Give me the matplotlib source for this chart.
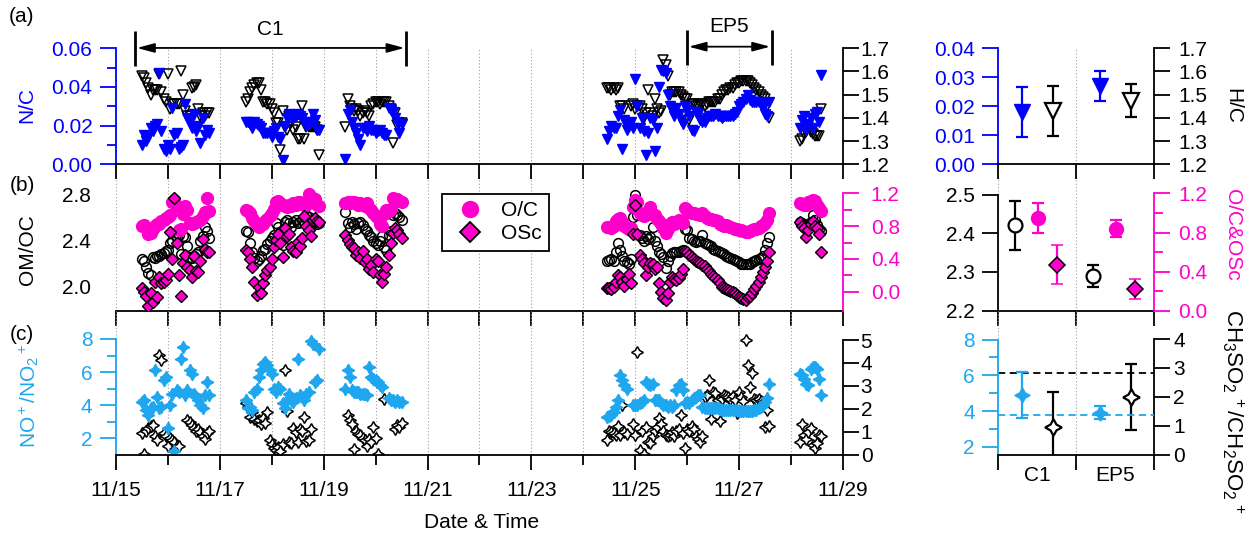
import numpy as np
import pandas as pd
import matplotlib
matplotlib.use("Agg")
import matplotlib.pyplot as plt
import matplotlib.dates as mdates
from matplotlib.lines import Line2D
from matplotlib.ticker import FixedLocator, FormatStrFormatter, NullFormatter, NullLocator
from matplotlib.transforms import blended_transform_factory

plt.rcParams['font.family'] = ['Liberation Sans', 'DejaVu Sans']
plt.rcParams['font.size'] = 15
plt.rcParams['mathtext.fontset'] = 'custom'
plt.rcParams['mathtext.rm'] = 'Liberation Sans'
plt.rcParams['mathtext.it'] = 'Liberation Sans:italic'
plt.rcParams['axes.linewidth'] = 1.3

# ---------------- hourly time series, one list per measurement segment ----------------
SEG_START = ['2018-11-15 12:00', '2018-11-17 12:00', '2018-11-19 10:00',
             '2018-11-24 11:00', '2018-11-28 04:00']

N_C = [
    [0.010, 0.015, 0.012, 0.014, 0.019, 0.017, 0.020, 0.021, 0.047, 0.017,
     0.008, 0.007, 0.010, 0.008, 0.029, 0.015, 0.016, 0.008, 0.009, 0.010,
     0.031, 0.024, 0.022, 0.019, 0.026, 0.017, 0.020, 0.011, 0.024, 0.015,
     0.018, 0.016],
    [0.022, 0.022, 0.021, 0.019, 0.022, 0.021, 0.020, 0.019, 0.016, 0.016,
     0.016, 0.016, 0.014, 0.017, 0.019, 0.014, 0.013, 0.002, 0.020, 0.024,
     0.026, 0.025, 0.024, 0.025, 0.026, 0.025, 0.024, 0.022, 0.020, 0.021,
     0.022, 0.026, 0.023, 0.018, 0.018],
    [0.003, 0.026, 0.028, 0.022, 0.019, 0.016, 0.013, 0.010, 0.019, 0.019,
     0.017, 0.020, 0.018, 0.018, 0.016, 0.017, 0.018, 0.016, 0.015, 0.015,
     0.029, 0.028, 0.027, 0.024, 0.022, 0.016, 0.021],
    [0.013, 0.017, 0.020, 0.019, 0.019, 0.025, 0.028, 0.008, 0.023, 0.018,
     0.020, 0.022, 0.019, 0.044, 0.030, 0.019, 0.024, 0.017, 0.005, 0.016,
     0.024, 0.023, 0.007, 0.019, 0.040, 0.049, 0.048, 0.047, 0.036, 0.030,
     0.028, 0.025, 0.029, 0.026, 0.023, 0.021, 0.030, 0.028, 0.025, 0.018,
     0.017, 0.027, 0.026, 0.023, 0.022, 0.022, 0.024, 0.025, 0.025, 0.025,
     0.026, 0.025, 0.025, 0.024, 0.025, 0.025, 0.025, 0.025, 0.025, 0.026,
     0.027, 0.030, 0.031, 0.032, 0.034, 0.036, 0.033, 0.032, 0.032, 0.032,
     0.032, 0.031, 0.029, 0.026, 0.025, 0.032],
    [0.019, 0.023, 0.025, 0.018, 0.021, 0.024, 0.019, 0.026, 0.027, 0.022, 0.046],
]

H_C = [
    [1.58, 1.57, 1.55, 1.53, 1.50, 1.52, 1.52, 1.52, 1.59, 1.51,
     1.48, 1.47, 1.59, 1.44, 1.46, 1.46, 1.46, 1.46, 1.60, 1.50,
     1.43, 1.41, 1.41, 1.53, 1.535, 1.54, 1.44, 1.41, 1.42, 1.41,
     1.42, 1.42],
    [1.47, 1.48, 1.51, 1.53, 1.54, 1.55, 1.55, 1.52, 1.47, 1.47,
     1.46, 1.46, 1.44, 1.42, 1.38, 1.38, 1.26, 1.43, 1.36, 1.35,
     1.41, 1.38, 1.35, 1.36, 1.31, 1.31, 1.45, 1.31, 1.36, 1.36,
     1.36, 1.36, 1.36, 1.35, 1.24],
    [1.36, 1.48, 1.45, 1.44, 1.43, 1.44, 1.43, 1.41, 1.42, 1.43,
     1.42, 1.41, 1.45, 1.46, 1.47, 1.47, 1.46, 1.47, 1.47, 1.47,
     1.45, 1.44, 1.29, 1.42, 1.37, 1.38, 1.38],
    [1.53, 1.53, 1.52, 1.53, 1.52, 1.53, 1.45, 1.45, 1.44, 1.37,
     1.37, 1.45, 1.46, 1.44, 1.45, 1.45, 1.44, 1.40, 1.42, 1.52,
     1.42, 1.41, 1.48, 1.44, 1.42, 1.43, 1.65, 1.63, 1.58, 1.50,
     1.51, 1.51, 1.51, 1.51, 1.50, 1.49, 1.48, 1.48, 1.39, 1.46,
     1.46, 1.45, 1.45, 1.46, 1.46, 1.45, 1.46, 1.47, 1.47, 1.47,
     1.47, 1.48, 1.48, 1.50, 1.51, 1.52, 1.52, 1.53, 1.53, 1.54,
     1.55, 1.55, 1.56, 1.56, 1.56, 1.56, 1.55, 1.54, 1.53, 1.52,
     1.51, 1.50, 1.49, 1.48, 1.45, 1.40],
    [1.30, 1.31, 1.33, 1.34, 1.36, 1.34, 1.33, 1.32, 1.32, 1.32, 1.44],
]

OM_OC = [
    [2.24, 2.22, 2.17, 2.12, 2.10, 2.26, 2.25, 2.27, 2.27, 2.28,
     2.29, 2.31, 2.32, 2.38, 2.40, 2.74, 2.42, 2.45, 2.28, 2.44,
     2.43, 2.35, 2.26, 2.25, 2.27, 2.28, 2.30, 2.40, 2.44, 2.52,
     2.48, 2.42],
    [2.48, 2.47, 2.38, 2.30, 2.25, 2.22, 2.24, 2.27, 2.32, 2.33,
     2.37, 2.40, 2.42, 2.45, 2.55, 2.52, 2.47, 2.36, 2.56, 2.58,
     2.55, 2.52, 2.56, 2.58, 2.55, 2.56, 2.58, 2.56, 2.62, 2.60,
     2.57, 2.55, 2.56, 2.54, 2.55],
    [2.65, 2.55, 2.52, 2.56, 2.54, 2.50, 2.55, 2.56, 2.53, 2.50,
     2.48, 2.45, 2.43, 2.40, 2.38, 2.36, 2.40, 2.44, 2.34, 2.32,
     2.45, 2.48, 2.62, 2.64, 2.62, 2.60, 2.58],
    [2.22, 2.23, 2.24, 2.22, 2.30, 2.38, 2.32, 2.27, 2.22, 2.21,
     2.20, 2.24, 2.60, 2.79, 2.62, 2.45, 2.42, 2.40, 2.44, 2.41,
     2.43, 2.52, 2.40, 2.35, 2.30, 2.28, 2.26, 2.16, 2.22, 2.27,
     2.29, 2.30, 2.30, 2.30, 2.31, 2.32, 2.50, 2.49, 2.42, 2.41,
     2.40, 2.39, 2.40, 2.40, 2.45, 2.38, 2.37, 2.36, 2.35, 2.33,
     2.32, 2.31, 2.30, 2.29, 2.28, 2.27, 2.26, 2.25, 2.24, 2.23,
     2.22, 2.21, 2.20, 2.20, 2.20, 2.20, 2.20, 2.21, 2.22, 2.23,
     2.24, 2.25, 2.27, 2.32, 2.38, 2.43],
    [2.56, 2.55, 2.53, 2.52, 2.54, 2.56, 2.62, 2.58, 2.53, 2.50, 2.48],
]

O_C = [
    [0.80, 0.81, 0.78, 0.70, 0.72, 0.76, 0.80, 0.82, 0.82, 0.86,
     0.87, 0.90, 0.91, 0.93, 1.10, 1.12, 1.05, 0.75, 0.76, 0.95,
     1.05, 1.00, 0.84, 0.83, 0.84, 0.85, 0.86, 0.88, 0.92, 0.97,
     1.14, 0.99],
    [1.00, 0.98, 0.96, 0.90, 0.86, 0.82, 0.79, 0.81, 0.83, 0.86,
     0.89, 0.92, 0.96, 1.01, 1.10, 1.11, 1.08, 1.06, 1.05, 1.03,
     1.06, 1.05, 1.08, 1.06, 1.09, 1.10, 1.07, 1.06, 1.06, 1.19,
     1.15, 1.10, 1.13, 1.06, 1.04],
    [1.08, 1.09, 1.08, 1.09, 1.10, 1.08, 1.06, 1.08, 1.06, 1.05,
     1.08, 1.02, 1.00, 0.96, 0.92, 0.90, 0.82, 0.80, 0.95, 1.00,
     0.98, 1.01, 1.14, 1.12, 1.13, 1.11, 1.10],
    [0.79, 0.79, 0.78, 0.80, 0.86, 0.89, 0.90, 0.85, 0.80, 0.78,
     0.77, 0.78, 1.03, 1.12, 1.10, 0.96, 0.93, 0.92, 0.94, 0.99,
     1.03, 0.95, 0.93, 0.89, 0.86, 0.82, 0.78, 0.72, 0.77, 0.83,
     0.85, 0.83, 0.84, 0.87, 0.86, 0.84, 1.02, 1.00, 0.97, 0.96,
     0.96, 0.95, 0.95, 0.93, 0.96, 0.92, 0.90, 0.89, 0.89, 0.88,
     0.87, 0.86, 0.83, 0.81, 0.80, 0.81, 0.80, 0.79, 0.78, 0.77,
     0.76, 0.75, 0.75, 0.74, 0.73, 0.73, 0.74, 0.75, 0.76, 0.77,
     0.78, 0.80, 0.81, 0.84, 0.88, 0.96],
    [1.08, 1.07, 1.06, 1.06, 1.09, 1.11, 1.12, 1.11, 1.06, 1.02, 0.98],
]

OSC = [
    [0.05, 0.00, -0.05, -0.17, -0.02, -0.12, 0.12, -0.07, 0.18, 0.10,
     0.12, 0.14, 0.22, 0.73, 0.40, 1.14, 0.60, 0.20, -0.05, 0.35,
     0.45, 0.30, 0.26, 0.18, 0.43, 0.25, 0.24, 0.38, 0.64, 0.52,
     0.49, 0.48],
    [0.51, 0.48, 0.40, 0.30, 0.12, -0.04, 0.06, -0.02, 0.10, 0.20,
     0.26, 0.30, 0.40, 0.55, 0.63, 0.70, 0.60, 0.42, 0.78, 0.68,
     0.70, 0.55, 0.50, 0.48, 0.61, 0.56, 0.65, 0.92, 0.80, 0.75,
     0.68, 0.88, 0.90, 0.86, 0.85],
    [0.69, 0.63, 0.58, 0.55, 0.53, 0.45, 0.48, 0.41, 0.50, 0.36,
     0.40, 0.28, 0.32, 0.24, 0.40, 0.38, 0.20, 0.12, 0.22, 0.30,
     0.45, 0.60, 0.72, 0.78, 0.75, 0.70, 0.65],
    [0.04, 0.05, 0.03, 0.06, 0.12, 0.20, 0.18, 0.12, 0.07, 0.15,
     0.22, 0.10, 0.70, 1.06, 0.70, 0.45, 0.40, 0.35, 0.20, 0.30,
     0.35, 0.34, 0.28, 0.30, 0.10, 0.00, -0.08, -0.10, -0.02, 0.12,
     0.18, 0.15, 0.14, 0.17, 0.22, 0.28, 0.50, 0.48, 0.45, 0.42,
     0.40, 0.38, 0.36, 0.35, 0.33, 0.31, 0.28, 0.25, 0.22, 0.19,
     0.17, 0.14, 0.10, 0.06, 0.04, 0.03, 0.02, 0.01, 0.00, -0.02,
     -0.04, -0.06, -0.08, -0.09, -0.10, -0.07, -0.05, -0.02, 0.03, 0.07,
     0.12, 0.18, 0.24, 0.30, 0.38, 0.48],
    [0.85, 0.80, 0.78, 0.67, 0.75, 0.82, 0.86, 0.80, 0.78, 0.70, 0.49],
]

nan = np.nan
NO_RATIO = [
    [4.2, 4.3, 3.7, 3.4, 3.8, 3.9, 6.1, 4.5, 3.8, 3.9,
     5.5, 5.7, 2.6, 4.0, 4.7, 1.2, 4.9, 4.8, 6.8, 7.5,
     4.6, 4.9, 6.1, 5.9, 4.7, 4.5, 4.3, 4.0, 3.8, 4.6,
     5.4, 4.6],
    [4.3, 3.8, 3.9, 3.7, 4.8, 5.0, 5.7, 6.1, 6.5, 6.6,
     6.4, 6.1, 5.9, 5.0, 4.8, 5.1, 5.0, 4.1, 3.8, 4.3,
     4.7, 4.3, 4.2, 4.4, 6.8, 4.6, 4.5, 4.3, 4.7, 4.8,
     7.9, 7.7, 5.4, 5.5, 7.4],
    [5.0, 6.1, 5.7, 4.9, 4.8, 4.8, 4.8, 4.7, 4.7, 4.7,
     4.6, 6.3, 5.7, 5.6, 5.5, 5.4, 5.2, 5.1, nan, nan,
     4.4, 4.3, 4.3, 4.2, 4.3, 4.2, 4.2],
    [3.3, 3.35, 3.4, 3.6, 3.9, 4.3, 5.8, 5.5, 5.2, 5.0,
     nan, nan, 4.0, 4.0, 4.0, 4.1, 4.2, 4.3, 5.4, 5.3,
     5.2, 5.3, 4.3, 4.3, 4.3, 4.1, 4.0, 4.0, 3.9, 4.0,
     3.9, 4.0, 4.9, 5.2, 5.3, 4.9, 4.1, 4.2, 4.1, 4.3,
     4.4, 4.5, 4.6, 4.6, 3.9, 3.8, 3.85, 3.85, 3.85, 3.85,
     3.85, 3.8, 3.75, 3.7, 3.7, 3.7, 3.7, 3.7, 3.7, 3.7,
     3.7, 3.65, 3.65, 3.65, 3.65, 3.65, 3.65, 3.65, 3.7, 3.7,
     3.8, 3.9, 4.0, 4.2, 4.4, 5.3],
    [5.9, 5.85, 5.6, 5.3, 5.2, 6.2, 6.3, 6.3, 6.2, 5.6, 4.6],
]

CH_RATIO = [
    [0.95, 0.02, 1.05, 1.15, 1.25, 1.30, 0.80, 0.62, 4.35, 4.15,
     0.95, 0.80, 0.40, 0.75, 0.65, 0.55, 0.38, 0.40, nan, nan,
     nan, 1.50, 1.42, 1.30, 1.15, 1.05, 1.10, 1.00, 0.80, 0.70,
     0.95, 1.05],
    [2.25, 2.10, 1.65, 1.85, 1.55, 1.45, 1.50, 1.35, 1.60, 1.40,
     1.85, 0.65, 0.45, 0.30, 0.20, 0.35, 0.15, 0.45, 3.70, 1.90,
     0.55, 0.50, 1.15, 1.00, 0.55, 1.10, 1.05, 1.65, 0.60, 0.65,
     1.10, nan, nan, nan, nan],
    [nan, 1.75, 1.50, 1.35, 0.25, 1.05, 0.90, 0.85, 0.75, 0.65,
     0.40, 0.70, 0.55, 1.20, 0.75, 0.05, nan, nan, 2.45, nan,
     nan, nan, nan, 1.10, 1.30, 1.20, 1.40],
    [0.65, 1.05, 1.00, 0.95, 0.85, 1.25, 0.85, 2.15, 1.00, 0.90,
     nan, nan, 1.35, 0.85, 4.50, 0.20, 1.05, 0.05, 1.20, 0.55,
     0.50, 0.80, 1.05, 1.20, 1.60, 1.35, 1.05, 0.85, 0.80, 0.85,
     1.00, 0.80, 1.05, 1.10, 1.75, 0.95, 0.30, 1.10, 1.05, 1.25,
     1.10, 0.80, 0.70, 0.55, 0.80, 2.50, 2.60, 3.25, 1.55, 2.75,
     2.70, 2.40, 1.45, 2.45, 2.60, 2.55, 2.50, 2.45, 2.55, 2.40,
     1.80, 2.75, 2.50, 2.35, 5.00, 3.90, 2.95, 3.55, 2.45, 2.40,
     2.45, 2.35, 2.30, 1.20, 1.95, 1.25],
    [0.55, 1.35, 0.85, 0.70, 1.00, 1.15, 0.42, 0.28, 0.50, 0.85, 0.80],
]

# ---------------- periods and their mean +/- 1 sd ----------------
PERIOD_NAMES = ['C1', 'EP5']
PERIOD_START = ['2018-11-15 09:00', '2018-11-26 00:00']
PERIOD_END = ['2018-11-20 14:00', '2018-11-27 15:00']

NC_MEAN, NC_SD = [0.018, 0.027], [0.0086, 0.0052]
HC_MEAN, HC_SD = [1.428, 1.473], [0.108, 0.071]
OMOC_MEAN, OMOC_SD = [2.42, 2.29], [0.064, 0.028]
OC_MEAN, OC_SD = [0.95, 0.84], [0.154, 0.090]
OSC_MEAN, OSC_SD = [0.47, 0.22], [0.20, 0.10]
NO_MEAN, NO_SD = [4.9, 3.9], [1.31, 0.37]
CH_MEAN, CH_SD = [0.97, 2.0], [1.20, 1.13]
NO_REF = 3.80
CH_REF = 2.82

DATE_LABEL_DAYS = [15, 17, 19, 21, 23, 25, 27, 29]

# ---------------- styling ----------------
BLUE = '#0000ff'
MAGENTA = '#ff00cc'
SKY = '#1ea7ef'
GRID_KW = dict(color='0.62', lw=0.8, ls=(0, (1, 2)), zorder=0)
T0, T1 = pd.Timestamp('2018-11-15'), pd.Timestamp('2018-11-29')

W, H = 1252, 534
fig = plt.figure(figsize=(W / 100, H / 100), dpi=100)


def rect(x0, x1, y0, y1):
    return [x0 / W, 1 - y1 / H, (x1 - x0) / W, (y1 - y0) / H]


XL, XR = (116, 843), (998.3, 1154.3)
YA, YB, YC = (48.3, 164.3), (164.3, 310.7), (310.7, 454.7)


def series(values):
    t = np.concatenate([pd.date_range(s, periods=len(v), freq='h').values
                        for s, v in zip(SEG_START, values)])
    return t, np.concatenate([np.asarray(v, float) for v in values])


def pair(xr, yr):
    ax = fig.add_axes(rect(*xr, *yr))
    ax2 = ax.twinx()
    ax.spines['top'].set_visible(False)
    ax.spines['right'].set_visible(False)
    for s in ('top', 'left', 'bottom'):
        ax2.spines[s].set_visible(False)
    return ax, ax2


def yaxis_style(ax, color, major, minor=None, fmt='%.1f', pad=5, side='left'):
    sp = ax.spines[side]
    sp.set_color(color)
    ax.yaxis.set_major_locator(FixedLocator(major))
    ax.yaxis.set_minor_locator(FixedLocator(minor) if minor else NullLocator())
    ax.yaxis.set_major_formatter(FormatStrFormatter(fmt))
    ax.tick_params(axis='y', which='major', length=11.5, width=1.3, direction='out',
                   colors=color, pad=pad)
    ax.tick_params(axis='y', which='minor', length=6.5, width=1.3, direction='out',
                   colors=color)


def day_grid(ax):
    for d in pd.date_range(T0, T1, freq='D'):
        ax.axvline(d, **GRID_KW)


# ================= left: time series =================
axA, axA2 = pair(XL, YA)
axB, axB2 = pair(XL, YB)
axC, axC2 = pair(XL, YC)

t, v = series(H_C)
axA2.plot(t, v, ls='none', marker='v', ms=7.5, mfc='none', mec='k', mew=1.1)
t, v = series(N_C)
axA.plot(t, v, ls='none', marker='v', ms=7.5, color=BLUE, mec=BLUE)
axA.set_zorder(axA2.get_zorder() + 1)
axA.patch.set_visible(False)

t, v = series(OM_OC)
axB.plot(t, v, ls='none', marker='o', ms=7, mfc='none', mec='k', mew=1.1)
t, v = series(O_C)
axB2.plot(t, v, ls='none', marker='o', ms=8.5, color=MAGENTA, mec=MAGENTA)
t, v = series(OSC)
axB2.plot(t, v, ls='none', marker='D', ms=6.3, mfc=MAGENTA, mec='k', mew=1.0)

t, v = series(CH_RATIO)
axC2.plot(t, v, ls='none', marker=(4, 1, 0), ms=8.5, mfc='white', mec='k', mew=1.1)
t, v = series(NO_RATIO)
axC.plot(t, v, ls='none', marker=(4, 1, 0), ms=9, color=SKY, mec=SKY)
axC.set_zorder(axC2.get_zorder() + 1)
axC.patch.set_visible(False)

for ax in (axA, axB, axC):
    ax.set_xlim(T0, T1)
day_grid(axA2)
day_grid(axB)
day_grid(axC2)

# x axes
for ax in (axA, axB):
    ax.xaxis.set_major_locator(mdates.DayLocator())
    ax.xaxis.set_major_formatter(NullFormatter())
    ax.tick_params(axis='x', which='major', length=10.5, width=1.3, direction='out')
axC.xaxis.set_major_locator(mdates.DayLocator(bymonthday=DATE_LABEL_DAYS))
axC.xaxis.set_minor_locator(mdates.DayLocator())
axC.xaxis.set_major_formatter(mdates.DateFormatter('%m/%d'))
axC.tick_params(axis='x', which='major', length=11, width=1.3, direction='out', pad=8)
axC.tick_params(axis='x', which='minor', length=7, width=1.3, direction='out')

# y axes
axA.set_ylim(0, 0.06)
yaxis_style(axA, BLUE, [0, 0.02, 0.04, 0.06], [0.01, 0.03, 0.05], '%.2f', pad=5.5)
axA2.set_ylim(1.2, 1.7)
yaxis_style(axA2, 'k', [1.2, 1.3, 1.4, 1.5, 1.6, 1.7], None, '%.1f', pad=1, side='right')

axB.set_ylim(1.792, 3.06)
axB.spines['left'].set_visible(False)
axB.yaxis.set_major_locator(FixedLocator([2.0, 2.4, 2.8]))
axB.yaxis.set_major_formatter(FormatStrFormatter('%.1f'))
axB.tick_params(axis='y', length=0, pad=18)
axB2.set_ylim(-0.232, 1.554)
yaxis_style(axB2, MAGENTA, [0, 0.4, 0.8, 1.2], [0.2, 0.6, 1.0], '%.1f', pad=8.5, side='right')
axB2.spines['right'].set_bounds(-0.232, 1.2)

axC.set_ylim(1.0, 9.71)
yaxis_style(axC, SKY, [2, 4, 6, 8], [3, 5, 7], '%d', pad=5.5)
axC.spines['left'].set_bounds(1.0, 8)
axC2.set_ylim(0, 6.28)
yaxis_style(axC2, 'k', [0, 1, 2, 3, 4, 5], None, '%d', pad=1.2, side='right')
axC2.spines['right'].set_bounds(0, 5)

# period markers above panel (a)
trans = blended_transform_factory(axA.transData, axA.transAxes)
for name, s, e, ya, ytxt in zip(PERIOD_NAMES, PERIOD_START, PERIOD_END,
                                (1.003, 1.014), (1.158, 1.19)):
    xs, xe = mdates.date2num(pd.Timestamp(s)), mdates.date2num(pd.Timestamp(e))
    for xv in (xs, xe):
        axA.plot([xv, xv], [ya - 0.155, ya + 0.142], transform=trans, color='k',
                 lw=2.0, clip_on=False, solid_capstyle='butt')
    axA.annotate('', xy=(xe, ya), xytext=(xs, ya), xycoords=trans, textcoords=trans,
                 annotation_clip=False,
                 arrowprops=dict(arrowstyle='<|-|>,head_length=0.75,head_width=0.2',
                                 color='k', lw=1.3, shrinkA=1, shrinkB=1,
                                 mutation_scale=14))
    axA.text((xs + xe) / 2, ytxt, name, transform=trans, ha='center', va='center')

# legend
handles = [Line2D([], [], ls='none', marker='o', ms=11.5, color=MAGENTA, mec=MAGENTA),
           Line2D([], [], ls='none', marker='D', ms=10, mfc=MAGENTA, mec='k', mew=1.3)]
leg = axB2.legend(handles, ['O/C', 'OSc'], loc='upper left',
                  bbox_to_anchor=(442 / W, 1 - 194 / H), bbox_transform=fig.transFigure,
                  frameon=True, fancybox=False, edgecolor='k', framealpha=1,
                  borderpad=0.35, handletextpad=0.5, labelspacing=0.2,
                  handlelength=2.0, borderaxespad=0)
leg.get_frame().set_linewidth(1.3)

# ================= right: period means =================
rA, rA2 = pair(XR, YA)
rB, rB2 = pair(XR, YB)
rC, rC2 = pair(XR, YC)
X_CAT = np.arange(len(PERIOD_NAMES)) + 0.5
EB = dict(ls='none', elinewidth=1.6, capsize=4.3, capthick=1.6)

rA2.errorbar(X_CAT + 0.20, HC_MEAN, yerr=HC_SD, marker='v', ms=11, mfc='white', mec='k',
             mew=1.6, color='k', **EB)
rA.errorbar(X_CAT - 0.19, NC_MEAN, yerr=NC_SD, marker='v', ms=11, color=BLUE, **EB)
rA.set_zorder(rA2.get_zorder() + 1)
rA.patch.set_visible(False)

rB.errorbar(X_CAT - 0.29, OMOC_MEAN, yerr=OMOC_SD, marker='o', ms=10, mfc='white', mec='k',
            mew=1.6, color='k', **EB)
rB2.errorbar(X_CAT + 0.01, OC_MEAN, yerr=OC_SD, marker='o', ms=10, color=MAGENTA, **EB)
rB2.errorbar(X_CAT + 0.25, OSC_MEAN, yerr=OSC_SD, marker='D', ms=8.5, mfc=MAGENTA, mec='k',
             mew=1.1, ecolor=MAGENTA, **EB)

rC2.axhline(CH_REF, color='k', lw=1.3, ls=(0, (4, 2.5)))
rC.axhline(NO_REF, color=SKY, lw=1.3, ls=(0, (4, 2.5)))
rC2.errorbar(X_CAT + 0.20, CH_MEAN, yerr=CH_SD, marker=(4, 1, 0), ms=12, mfc='white', mec='k',
             mew=1.6, color='k', **EB)
rC.errorbar(X_CAT - 0.19, NO_MEAN, yerr=NO_SD, marker=(4, 1, 0), ms=11, color=SKY, **EB)
rC.set_zorder(rC2.get_zorder() + 1)
rC.patch.set_visible(False)

for ax in (rA2, rB, rC2):
    for xv in (0, 1, 2):
        ax.axvline(xv, **GRID_KW)

for ax in (rA, rB, rC):
    ax.set_xlim(0, 2)
    ax.xaxis.set_major_locator(FixedLocator([0, 1, 2]))
    ax.xaxis.set_major_formatter(NullFormatter())
    ax.tick_params(axis='x', which='major', length=11, width=1.3, direction='out')
rC.xaxis.set_minor_locator(FixedLocator(X_CAT))
rC.set_xticklabels(PERIOD_NAMES, minor=True)
rC.tick_params(axis='x', which='minor', length=0, pad=8)

rA.set_ylim(0, 0.04)
yaxis_style(rA, BLUE, [0, 0.01, 0.02, 0.03, 0.04], None, '%.2f', pad=5.5)
rA2.set_ylim(1.2, 1.7)
yaxis_style(rA2, 'k', [1.2, 1.3, 1.4, 1.5, 1.6, 1.7], None, '%.1f', pad=5.5, side='right')

rB.set_ylim(2.2, 2.578)
yaxis_style(rB, 'k', [2.2, 2.3, 2.4, 2.5], None, '%.1f', pad=5.5)
rB.spines['left'].set_bounds(2.2, 2.5)
rB2.set_ylim(0, 1.498)
yaxis_style(rB2, MAGENTA, [0, 0.4, 0.8, 1.2], [0.2, 0.6, 1.0], '%.1f', pad=5.5, side='right')
rB2.spines['right'].set_bounds(0, 1.2)

rC.set_ylim(1.554, 9.62)
yaxis_style(rC, SKY, [2, 4, 6, 8], [3, 5, 7], '%d', pad=5.5)
rC.spines['left'].set_bounds(1.554, 8)
rC2.set_ylim(0, 4.98)
yaxis_style(rC2, 'k', [0, 1, 2, 3, 4], None, '%d', pad=2, side='right')
rC2.spines['right'].set_bounds(0, 4)

# ================= labels =================
def ftext(px, py, s, **kw):
    fig.text(px / W, 1 - py / H, s, ha='center', va='center', **kw)


ftext(22, 17, '(a)')
ftext(22, 185, '(b)')
ftext(22, 335, '(c)')
ftext(27, 105, 'N/C', color=BLUE, rotation=90)
ftext(27, 250, 'OM/OC', rotation=90)
ftext(29, 396, r'$\mathregular{NO^+/NO_2{}^+}$', color=SKY, rotation=90)
ftext(1233, 106, 'H/C', rotation=270)
ftext(1232, 235, 'O/C&OSc', color=MAGENTA, rotation=270)
ftext(1233, 412, r'$\mathregular{CH_3SO_2{}^{\,+}/CH_2SO_2{}^{\,+}}$', rotation=270, fontsize=16)
ftext(482, 522, 'Date & Time')

fig.savefig('out.png', dpi=100)
